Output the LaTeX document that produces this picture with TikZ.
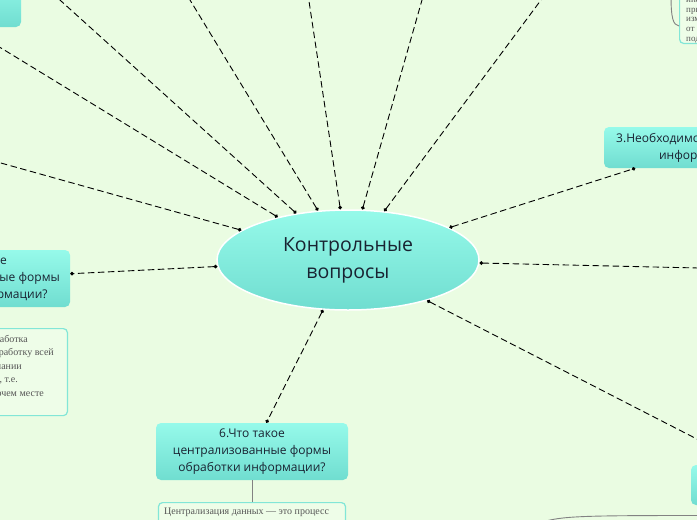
\documentclass[tikz,border=0pt]{standalone}
\usepackage{fontspec}
\setmainfont{Open Sans}
\newfontfamily\serifru{Liberation Serif}
\usetikzlibrary{arrows.meta,shapes.geometric}
\definecolor{bgc}{RGB}{234,252,226}
\definecolor{boxtop}{RGB}{150,250,234}
\definecolor{boxbot}{RGB}{112,221,208}
\definecolor{txt}{RGB}{25,35,50}
\definecolor{detfill}{RGB}{238,253,232}
\definecolor{detline}{RGB}{130,230,215}
\definecolor{dettxt}{RGB}{85,85,85}
\definecolor{conn}{RGB}{130,130,130}
\begin{document}
\begin{tikzpicture}[x=1pt,y=-1pt,
  qbox/.style={rectangle, rounded corners=5pt, top color=boxtop, bottom color=boxbot,
    text=txt, font=\fontsize{12}{17}\selectfont, align=center, minimum width=192pt, inner sep=3pt},
  central/.style={ellipse, draw=white, line width=1.5pt, top color=boxtop, bottom color=boxbot,
    minimum width=262pt, minimum height=100pt, inner sep=0pt,
    font=\fontsize{19.5}{27}\selectfont, text=txt, align=center},
  link/.style={black, line width=0.9pt, dash pattern=on 6.5pt off 3.5pt,
    {Circle[length=3.6pt]}-{Circle[length=3.6pt]}},
  detail/.style={rectangle, rounded corners=4pt, draw=detline, line width=1.2pt, fill=detfill},
  dtext/.style={font=\serifru\fontsize{10}{13.5}\selectfont, text=dettxt, inner sep=0pt},
  stext/.style={font=\serifru\fontsize{9}{10}\selectfont, text=dettxt, inner sep=0pt},
  tie/.style={conn, line width=0.9pt}]
\useasboundingbox (0,0) rectangle (697,520);
\fill[bgc] (0,0) rectangle (697,520);
\clip (0,0) rectangle (697,520);

% detail boxes
\node[detail, anchor=north east, minimum width=200pt, minimum height=87pt] (d5) at (68,328) {};
\node[detail, anchor=north, minimum width=187pt, minimum height=60pt] (d6) at (252,502) {};
\node[detail, anchor=south west, minimum width=150pt, minimum height=80pt] (dtr) at (679,44) {};

% main nodes
\node[central] (c) at (348,260) {Контрольные\\вопросы};
\node[qbox, minimum height=57pt] (n5) at (-26,278.5) {5.Что такое\\децентрализованные формы\\обработки информации?};
\node[qbox, minimum height=57pt] (n6) at (252,451.5) {6.Что такое\\централизованные формы\\обработки информации?};
\node[qbox, minimum height=41pt] (n3) at (700,147.5) {3.Необходимость обработки\\информации?};
\node[qbox, minimum height=51pt] (tl) at (-75,1.5) {};
\node[qbox, minimum height=40pt, minimum width=191pt] (br) at (786.5,485) {};

% free ends of connectors leaving the picture
\coordinate (fB) at (-60,146);
\coordinate (fC) at (15.6,-40);
\coordinate (fD) at (165.7,-40);
\coordinate (fE) at (302.8,-40);
\coordinate (fF) at (433.4,-40);
\coordinate (fG) at (570.7,-40);
\coordinate (fR) at (760,269.4);
\coordinate (trc) at (679,26);

% dashed connectors
\draw[link] (c) -- (tl);
\draw[link] (c) -- (fB);
\draw[link] (c) -- (fC);
\draw[link] (c) -- (fD);
\draw[link] (c) -- (fE);
\draw[link] (c) -- (fF);
\draw[link] (c) -- (fG);
\draw[link] (c) -- (n3);
\draw[link] (c) -- (fR);
\draw[link] (c) -- (br);
\draw[link] (c) -- (n5);
\draw[link] (c) -- (n6);

% solid ties to details
\draw[tie] (n6) -- (d6);
\draw[tie] (n5) -- (d5);
\draw[tie] (671,-5) .. controls (671,18) and (673,25) .. (trc);
\draw[tie] (546,521) .. controls (565,516) and (590,515.5) .. (700,515.5);

% detail texts
\node[dtext, anchor=base west] (t6a) at (164,514) {Централизация данных — это процесс};

\node[dtext, anchor=base east] (t5a) at (28,342) {Децентрализованная обработка};
\node[dtext, anchor=base east] (t5b) at (54,355.5) {информации предполагает обработку всей};
\node[dtext, anchor=base east] (t5c) at (22,369) {информации в компании};
\node[dtext, anchor=base east] (t5d) at (18,382.5) {в местах её возникновения, т.е.};
\node[dtext, anchor=base east] (t5e) at (44,396) {на каждом рабочем месте};

\node[stext, anchor=base west] (tr0) at (686,2) {информации};
\node[stext, anchor=base west] (tr1) at (686,12) {приведённой};
\node[stext, anchor=base west] (tr2) at (686,21.5) {изменений};
\node[stext, anchor=base west] (tr3) at (686,31.5) {от Заказчика};
\node[stext, anchor=base west] (tr4) at (686,41) {подразделения};
\end{tikzpicture}
\end{document}
